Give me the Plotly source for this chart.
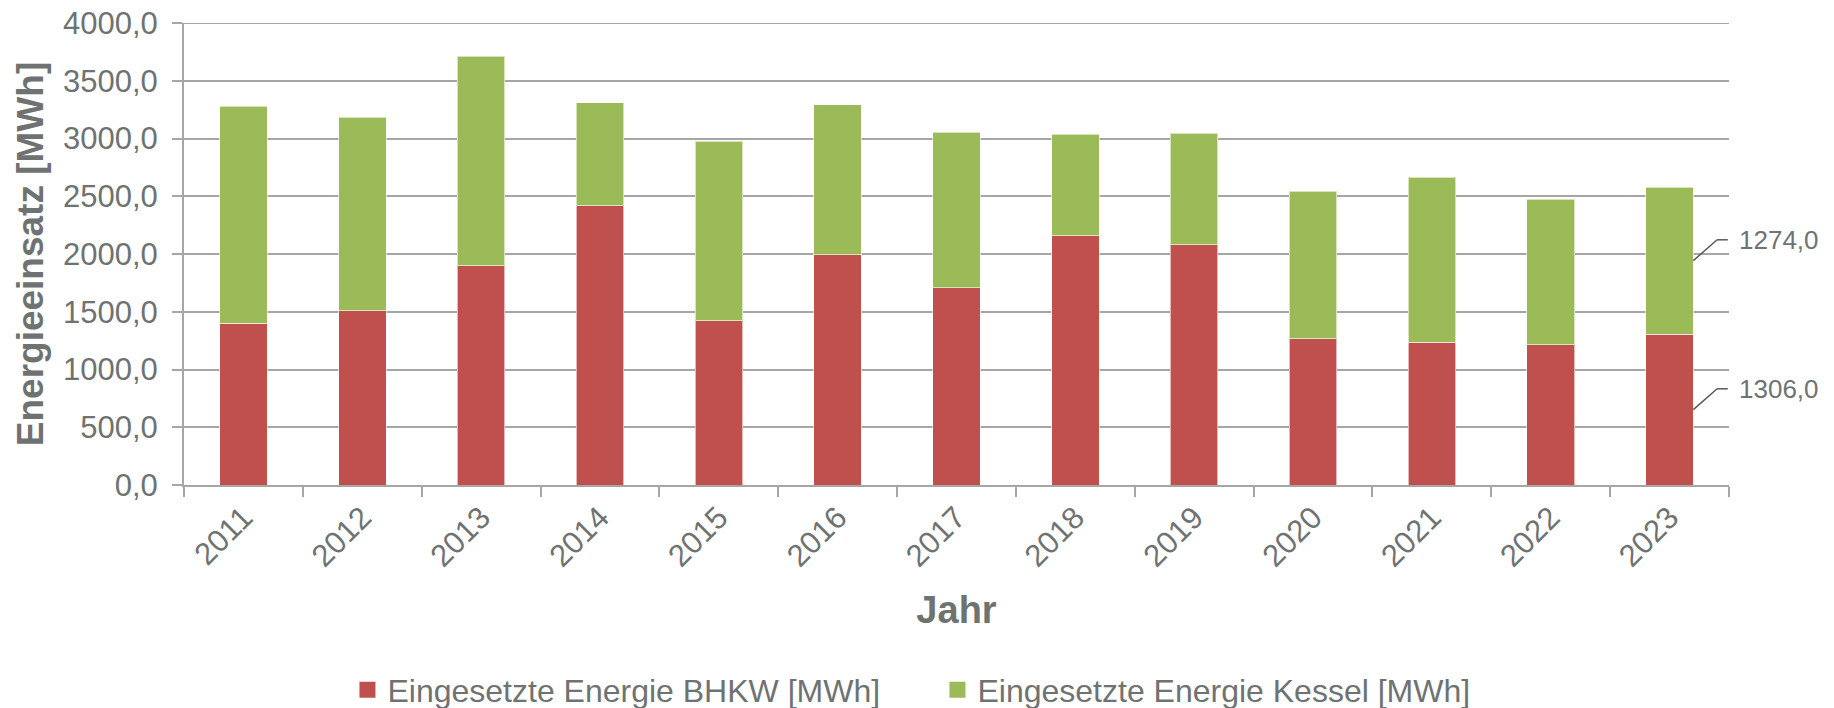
import plotly.graph_objects as go

years = ["2011", "2012", "2013", "2014", "2015", "2016", "2017",
         "2018", "2019", "2020", "2021", "2022", "2023"]
bhkw = [1400, 1507, 1899, 2418, 1424, 1994, 1706, 2159, 2078, 1265, 1236, 1216, 1306]
kessel = [1880, 1675, 1813, 893, 1553, 1297, 1346, 879, 968, 1277, 1430, 1260, 1274]

name_bhkw = "Eingesetzte Energie BHKW [MWh]"
name_kessel = "Eingesetzte Energie Kessel [MWh]"

RED = "#C0504D"
GREEN = "#9BBB59"
TXT = "#6E7372"
GRID = "#A6A6A6"
FONT = "Liberation Sans, Arial, sans-serif"

fig = go.Figure()
fig.add_trace(go.Bar(x=years, y=bhkw, name=name_bhkw, marker_color=RED, showlegend=False,
                     marker_line=dict(color="rgba(255,255,255,0.6)", width=1)))
fig.add_trace(go.Bar(x=years, y=kessel, name=name_kessel, marker_color=GREEN, showlegend=False,
                     marker_line=dict(color="rgba(255,255,255,0.6)", width=1)))
# legend entries with larger square swatches
for nm, col in [(name_bhkw, RED), (name_kessel, GREEN)]:
    fig.add_trace(go.Scatter(x=[None], y=[None], mode="markers", name=nm,
                             marker=dict(symbol="square", size=16, color=col)))

def fmt(v):
    return f"{v:.1f}".replace(".", ",")

# data labels for the last year with elbow leader lines
last = len(years) - 1
half_w = 0.2
elbow_dx = 0.2
end_dx = 0.29
elbow_dy = 180
points = [(bhkw[last] / 2, bhkw[last]), (bhkw[last] + kessel[last] / 2, kessel[last])]
for ymid, val in points:
    x0 = last + half_w
    x1 = last + half_w + elbow_dx
    x2 = last + half_w + end_dx
    y1 = ymid + elbow_dy
    fig.add_shape(type="line", xref="x", yref="y", x0=x0, y0=ymid, x1=x1, y1=y1,
                  line=dict(color="#595959", width=1.5))
    fig.add_shape(type="line", xref="x", yref="y", x0=x1, y0=y1, x1=x2, y1=y1,
                  line=dict(color="#595959", width=1.5))
    fig.add_annotation(x=last + 0.5, y=y1, xref="x", yref="y", text=fmt(val),
                       showarrow=False, xanchor="left", yanchor="middle", xshift=8,
                       font=dict(size=26, color=TXT, family=FONT))

# top border gridline (at the top of the value range)
fig.add_shape(type="line", xref="paper", yref="y", x0=0, x1=1, y0=4000, y1=4000,
              line=dict(color=GRID, width=2), layer="below")

fig.update_layout(
    width=1834, height=708,
    barmode="stack", bargap=0.6,
    plot_bgcolor="white", paper_bgcolor="white",
    separators=",.",
    font=dict(family=FONT, color=TXT, size=30),
    margin=dict(l=184, r=105, t=23, b=223, autoexpand=False),
    showlegend=True,
    legend=dict(orientation="h", xref="paper", x=0.1058, xanchor="left",
                yref="container", y=0.0254, yanchor="middle",
                traceorder="normal", font=dict(size=32, color=TXT, family=FONT),
                entrywidth=545, entrywidthmode="pixels"),
    xaxis=dict(
        type="category", tickangle=-45, tickfont=dict(size=31, color=TXT),
        showline=True, linecolor=GRID, linewidth=2, automargin=False,
        ticks="outside", tickson="boundaries", ticklen=10, tickcolor=GRID, tickwidth=1.5,
        title=dict(text="<b>Jahr</b>", font=dict(size=38, color=TXT), standoff=24),
        range=[-0.5, 12.5],
    ),
    yaxis=dict(
        range=[0, 4000], dtick=500, tickformat=".1f", automargin=False,
        tickfont=dict(size=31, color=TXT), ticklabeloverflow="allow",
        showgrid=True, gridcolor=GRID, gridwidth=2,
        showline=True, linecolor=GRID, linewidth=2,
        zeroline=False,
        ticks="outside", ticklen=10, tickcolor=GRID, tickwidth=2,
        ticklabelstandoff=8,
        title=dict(text="<b>Energieeinsatz [MWh]</b>", font=dict(size=37, color=TXT), standoff=8),
    ),
)

fig.write_html("out.html",
               config={"displayModeBar": False},
               post_script="document.body.style.margin='0';document.body.style.overflow='hidden';")
